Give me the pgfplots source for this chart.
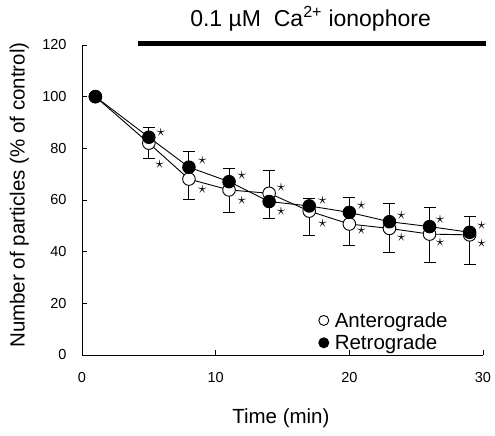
\documentclass[border=0pt]{standalone}
\usepackage{pgfplots}
\pgfplotsset{compat=1.18}
\usepackage{fontspec}
\setmainfont{Liberation Sans}
\begin{document}
\begin{tikzpicture}[x=1pt,y=1pt]
\path[use as bounding box] (-82,-81) rectangle (413,355);
\begin{axis}[
  anchor=origin, at={(0,0)},
  scale only axis, width=401pt, height=310pt,
  xmin=0, xmax=30, ymin=0, ymax=120,
  axis lines=left,
  axis line style={-, line width=0.8pt},
  tick align=inside,
  xtick={0,10,20,30}, ytick={0,20,...,120},
  major tick length=5pt,
  tick style={line width=0.8pt, black},
  tick label style={font=\fontsize{14.5}{17}\selectfont},
  /pgf/number format/assume math mode=true,
  xticklabel style={yshift=-14pt},
  yticklabel style={xshift=-12pt},
  label style={font=\fontsize{20.5}{24}\selectfont},
  xlabel={Time (min)},
  ylabel={Number of particles (\% of control)},
  xlabel style={at={(axis description cs:0.496,-0.205)}, anchor=center},
  ylabel style={at={(axis description cs:-0.156,0.516)}, anchor=center},
  clip=false,
  legend style={draw=none, fill=none, at={(axis cs:17.7,17.4)}, anchor=north west,
    font=\fontsize{20.5}{24}\selectfont, row sep=2pt, inner sep=0pt,
    legend cell align=left,
    /tikz/every odd column/.append style={column sep=4pt}},
  legend image code/.code={\draw[#1, mark size=5pt] plot coordinates {(0.2cm,0cm)};},
]
% error bars, retrograde (filled) upward
\addplot[forget plot, only marks, mark=none,
  error bars/.cd, y dir=plus, y explicit,
  error bar style={draw=black, line width=1pt},
  error mark options={rotate=90, mark size=6pt, line width=1pt, draw=black}]
  coordinates {(5,84.3) +- (0,3.7) (8,72.7) +- (0,6.0) (11,67.1) +- (0,4.9)
   (17,57.7) +- (0,2.7) (20,55.2) +- (0,5.7) (23,51.6) +- (0,7.1)
   (26,49.7) +- (0,7.5) (29,47.5) +- (0,6.0)};
\addplot[forget plot, only marks, mark=none,
  error bars/.cd, y dir=minus, y explicit,
  error bar style={draw=black, line width=1pt},
  error mark options={rotate=90, mark size=6pt, line width=1pt, draw=black}]
  coordinates {(14,59.4) +- (0,6.5)};
% error bars, anterograde (open) downward
\addplot[forget plot, only marks, mark=none,
  error bars/.cd, y dir=minus, y explicit,
  error bar style={draw=black, line width=1pt},
  error mark options={rotate=90, mark size=6pt, line width=1pt, draw=black}]
  coordinates {(5,82.0) +- (0,5.9) (8,68.1) +- (0,7.8) (11,63.9) +- (0,8.7)
   (17,55.7) +- (0,9.6) (20,50.7) +- (0,8.4) (23,49.0) +- (0,9.4)
   (26,46.8) +- (0,11.1) (29,46.5) +- (0,11.4)};
\addplot[forget plot, only marks, mark=none,
  error bars/.cd, y dir=plus, y explicit,
  error bar style={draw=black, line width=1pt},
  error mark options={rotate=90, mark size=6pt, line width=1pt, draw=black}]
  coordinates {(14,62.6) +- (0,9.0)};
% series
\addplot[black, line width=0.9pt, mark=*, mark size=6.3pt,
  mark options={fill=white, draw=black, line width=0.9pt}]
  coordinates {(1,100) (5,82.0) (8,68.1) (11,63.9) (14,62.6) (17,55.7)
   (20,50.7) (23,49.0) (26,46.8) (29,46.5)};
\addlegendentry{Anterograde}
\addplot[black, line width=0.9pt, mark=*, mark size=6.3pt,
  mark options={fill=black, draw=black}]
  coordinates {(1,100) (5,84.3) (8,72.7) (11,67.1) (14,59.4) (17,57.7)
   (20,55.2) (23,51.6) (26,49.7) (29,47.5)};
\addlegendentry{Retrograde}
% significance stars
\addplot[forget plot, only marks, mark=text,
  text mark={\fontsize{18}{18}\selectfont$\star$}]
  coordinates {(5.9,86.0) (9.0,75.2) (11.96,69.3) (14.9,64.9) (18.0,59.7)
   (20.9,57.7) (23.9,54.2) (26.8,52.3) (29.9,50.3)
   (5.8,73.9) (9.0,64.1) (11.96,60.0) (14.9,55.7) (18.0,51.0)
   (20.9,48.1) (23.9,45.6) (26.8,43.5) (29.9,43.2)};
% ionophore bar
\addplot[forget plot, black, line width=5pt] coordinates {(4.2,120.4) (30.2,120.4)};
\node[font=\fontsize{23}{26}\selectfont] at (axis cs:17.1,130.3)
  {0.1 \textmu M\ \ Ca\textsuperscript{2+} ionophore};
\end{axis}
\end{tikzpicture}
\end{document}
